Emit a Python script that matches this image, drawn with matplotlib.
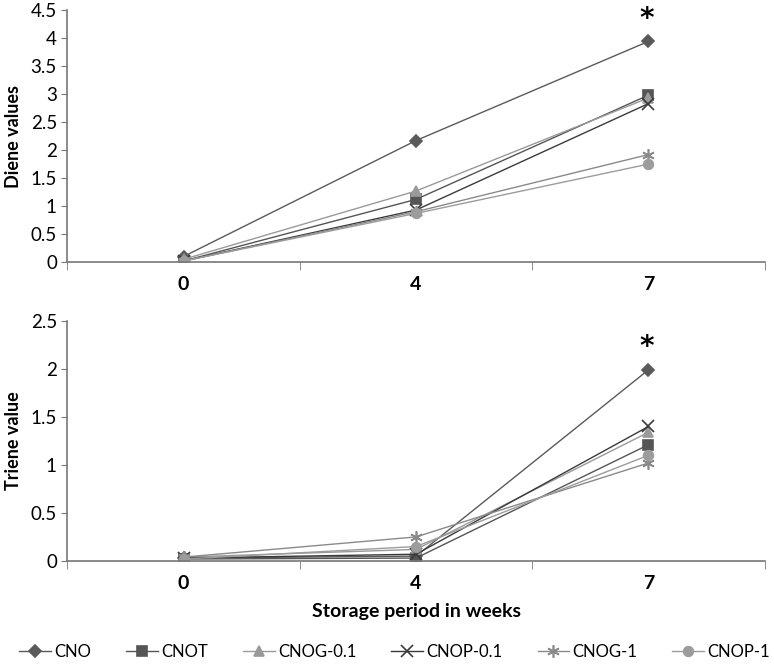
""" Diene and triene values over storage period. """

import matplotlib.pyplot as plt

plt.rcParams['font.family'] = ['Lato', 'DejaVu Sans']

weeks = ["0", "4", "7"]
series = ["CNO", "CNOT", "CNOG-0.1", "CNOP-0.1", "CNOG-1", "CNOP-1"]

diene = [
    [0.10, 2.17, 3.94],
    [0.02, 1.12, 2.98],
    [0.05, 1.27, 2.93],
    [0.02, 0.93, 2.83],
    [0.02, 0.90, 1.92],
    [0.02, 0.87, 1.75],
]

triene = [
    [0.03, 0.05, 1.99],
    [0.02, 0.03, 1.21],
    [0.04, 0.12, 1.34],
    [0.03, 0.07, 1.40],
    [0.04, 0.25, 1.02],
    [0.02, 0.15, 1.10],
]

markers = ["D", "s", "^", "x", (6, 2, 0), "o"]
msizes = [6, 7, 7, 8, 9, 7]
colors = ["#5a5a5a", "#555555", "#9a9a9a", "#3a3a3a", "#8a8a8a", "#9c9c9c"]

fig = plt.figure(figsize=(7.74, 6.67), dpi=100)
ax1 = fig.add_axes([0.087, 0.607, 0.901, 0.378])
ax2 = fig.add_axes([0.087, 0.159, 0.901, 0.360])

x = list(range(len(weeks)))


def style(ax, data, ymax, ylabel):
    for vals, name, m, ms, c in zip(data, series, markers, msizes, colors):
        ax.plot(x, vals, marker=m, markersize=ms, color=c, lw=1.0,
                markeredgecolor=c, markeredgewidth=1.2, label=name)
    ax.annotate("*", (2, data[0][2]), xytext=(-1, 6), textcoords="offset points",
                ha="center", va="bottom", fontsize=20, fontweight="bold",
                family="DejaVu Sans")
    ax.set_xlim(-0.5, 2.5)
    ax.set_ylim(0, ymax)
    ax.set_xticks(x)
    ax.set_xticklabels(weeks, fontsize=14, fontweight="bold")
    ax.set_xticks([-0.5, 0.5, 1.5, 2.5], minor=True)
    ax.tick_params(axis="x", which="major", length=0, pad=10)
    ax.tick_params(axis="x", which="minor", length=6, color="#777777", direction="out")
    ax.tick_params(axis="y", length=4, color="#777777", labelsize=13.5)
    ax.set_ylabel(ylabel, fontsize=13, fontweight="bold", labelpad=6)
    for s in ["top", "right"]:
        ax.spines[s].set_visible(False)
    for s in ["left", "bottom"]:
        ax.spines[s].set_color("#777777")
        ax.spines[s].set_linewidth(1.2)


style(ax1, diene, 4.5, "Diene values")
ax1.set_yticks([0, 0.5, 1, 1.5, 2, 2.5, 3, 3.5, 4, 4.5])
ax1.set_yticklabels(["0", "0.5", "1", "1.5", "2", "2.5", "3", "3.5", "4", "4.5"])

style(ax2, triene, 2.5, "Triene value")
ax2.set_yticks([0, 0.5, 1, 1.5, 2, 2.5])
ax2.set_yticklabels(["0", "0.5", "1", "1.5", "2", "2.5"])
ax2.set_xlabel("Storage period in weeks", fontsize=14, fontweight="bold", labelpad=8)

handles, labels = ax2.get_legend_handles_labels()
fig.legend(handles, labels, loc="center", bbox_to_anchor=(0.51, 0.022), ncol=6,
           frameon=False, fontsize=12, handlelength=1.9, handletextpad=0.2,
           columnspacing=2.1)

fig.savefig("out.png", dpi=100)
